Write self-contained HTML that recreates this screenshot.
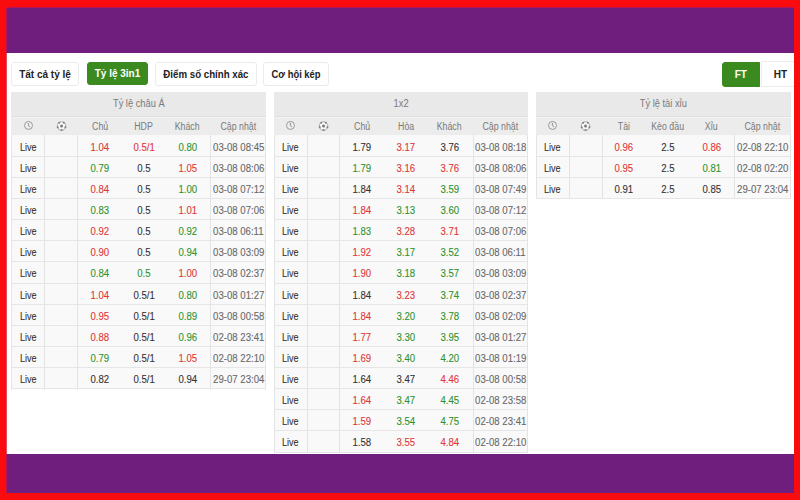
<!DOCTYPE html>
<html><head><meta charset="utf-8"><style>
*{margin:0;padding:0;box-sizing:border-box}
html,body{width:800px;height:500px;overflow:hidden;background:#f90b0e;font-family:"Liberation Sans",sans-serif}
#in{position:absolute;left:7px;top:8px;width:787px;height:485px;background:#fff;overflow:hidden}
#pt{position:absolute;left:0;top:0;width:787px;height:45px;background:#701e7e}
#pb{position:absolute;left:0;top:446px;width:787px;height:39px;background:#701e7e}
.btn{position:absolute;top:53.5px;height:24px;border:1px solid #ebebeb;border-radius:3px;background:#fff;font-size:10px;font-weight:bold;color:#222;text-align:center;line-height:23px}
.btn.on{background:#3b8a1f;border-color:#3b8a1f;color:#fff}
.tb{position:absolute;top:84px;width:254px;height:400px;font-size:10px}
i{font-style:normal;display:inline-block;transform:scaleX(0.93)}
.hd i{transform:scaleX(0.88)}
.rw i{transform:scaleX(0.96);-webkit-text-stroke:0.1px currentColor}
.rw i.lv{transform:scaleX(0.9)}
b{display:inline-block}
.ttl{position:absolute;left:0;top:0;width:100%;height:25px;background:#e9e9e9;border-bottom:1px solid #e0e0e0;color:#7a7a7a;text-align:center;line-height:24px}
.hd{position:absolute;left:0;top:25px;width:100%;height:18.1px;background:#ececec;border-top:1px solid #f3f3f3;color:#7a7a7a}
.dt{position:absolute;left:0;top:43.1px;width:100%;background:#f9f9f9}
.hl{position:absolute;left:0;width:100%;height:1px;background:#e6e6e6}
.vl{position:absolute;top:43.1px;width:1px;background:#e4e4e4}
.sh{position:absolute;top:0;width:254px;height:18px}
.rw{position:absolute;width:254px;height:21.13px;color:#333}
.hd span,.rw span{position:absolute;top:0;text-align:center;white-space:nowrap}
.hd span{line-height:17px;height:17px}
.rw span{line-height:21px;height:20.13px;padding-top:1.5px}
.c0{left:0;width:31.5px}
.c1{left:31.5px;width:33.5px}
.c2{left:65px;width:46px}
.c3{left:111px;width:42px}
.c4{left:152.5px;width:46px}
.c5{left:199.5px;width:54.5px}
.rw .c5{color:#686868}
.r{color:#df3639 !important}
.g{color:#2e922e !important}
</style></head><body>
<div style="position:absolute;left:7px;top:7px;width:787px;height:1px;background:#b5145a"></div>
<div style="position:absolute;left:6px;top:8px;width:1px;height:485px;background:#e0505c"></div>
<div style="position:absolute;left:6px;top:8px;width:1px;height:45px;background:#b5145a"></div>
<div style="position:absolute;left:6px;top:454px;width:1px;height:39px;background:#b5145a"></div>
<div id="in">
<div id="pt"></div>
<div class="btn" style="left:4px;width:68px"><b>Tất cả tỷ lệ</b></div>
<div class="btn on" style="left:80px;width:61px;top:54px;height:22.5px;line-height:22px"><b>Tỷ lệ 3in1</b></div>
<div class="btn" style="left:148px;width:102px"><b style="transform:scaleX(0.97)">Điểm số chính xác</b></div>
<div class="btn" style="left:256px;width:66px"><b style="transform:scaleX(0.94)">Cơ hội kép</b></div>
<div class="btn" style="left:753.5px;width:40px;top:53px;height:26px;line-height:24px;border-radius:0 3px 3px 0;border-color:#ededed"><b style="position:relative;top:0.5px">HT</b></div>
<div class="btn on" style="left:714.5px;width:38.5px;top:54px;height:24.5px;border-radius:3px 0 0 3px"><b>FT</b></div>

<div class="tb" style="left:4px;width:255px;height:296.66px">
<div class="ttl"><i>Tỷ lệ châu Á</i></div>
<div class="hd"><div class="sh" style="left:1px"><svg width="14" height="14" viewBox="0 0 14 14" style="position:absolute;left:10px;top:0px"><circle cx="6.5" cy="7.45" r="4" fill="none" stroke="#939393" stroke-width="0.9"/><path d="M6.4 4.9 V7.6 L8.1 8.8" fill="none" stroke="#8a8a8a" stroke-width="0.9"/></svg><svg width="13" height="13" viewBox="0 0 13 13" style="position:absolute;left:44px;top:1px"><g transform="translate(-0.45 1.05)"><circle cx="6" cy="6" r="4.3" fill="#f8f8f8" stroke="#a0a0a0" stroke-width="0.9"/><g fill="#808080"><circle cx="9.8" cy="7.2" r="1.0"/><circle cx="6" cy="10" r="1.0"/><circle cx="2.2" cy="7.2" r="1.0"/><circle cx="3.65" cy="2.75" r="1.0"/><circle cx="8.35" cy="2.75" r="1.0"/></g><circle cx="6" cy="6" r="1.5" fill="#7a7a7a"/></g></svg>
<span class="c2"><i>Chủ</i></span>
<span class="c3"><i>HDP</i></span>
<span class="c4"><i>Khách</i></span>
<span class="c5"><i>Cập nhật</i></span>
</div></div>
<div class="dt" style="height:253.56px"></div>
<div class="hl" style="top:63.73px"></div>
<div class="hl" style="top:84.86px"></div>
<div class="hl" style="top:105.99px"></div>
<div class="hl" style="top:127.12px"></div>
<div class="hl" style="top:148.25px"></div>
<div class="hl" style="top:169.38px"></div>
<div class="hl" style="top:190.51px"></div>
<div class="hl" style="top:211.64px"></div>
<div class="hl" style="top:232.77px"></div>
<div class="hl" style="top:253.90px"></div>
<div class="hl" style="top:275.03px"></div>
<div class="hl" style="top:296.16px"></div>
<div class="vl" style="left:0px;height:254.56px"></div>
<div class="vl" style="left:33px;height:254.56px"></div>
<div class="vl" style="left:66px;height:254.56px"></div>
<div class="vl" style="left:199px;height:254.56px"></div>
<div class="vl" style="left:254px;height:254.56px"></div>
<div class="rw" style="left:1px;top:43.10px">
<span class="c0"><i class="lv">Live</i></span>
<span class="c2 r"><i>1.04</i></span><span class="c3 r"><i>0.5/1</i></span><span class="c4 g"><i>0.80</i></span><span class="c5"><i>03-08 08:45</i></span>
</div>
<div class="rw" style="left:1px;top:64.23px">
<span class="c0"><i class="lv">Live</i></span>
<span class="c2 g"><i>0.79</i></span><span class="c3 "><i>0.5</i></span><span class="c4 r"><i>1.05</i></span><span class="c5"><i>03-08 08:06</i></span>
</div>
<div class="rw" style="left:1px;top:85.36px">
<span class="c0"><i class="lv">Live</i></span>
<span class="c2 r"><i>0.84</i></span><span class="c3 "><i>0.5</i></span><span class="c4 g"><i>1.00</i></span><span class="c5"><i>03-08 07:12</i></span>
</div>
<div class="rw" style="left:1px;top:106.49px">
<span class="c0"><i class="lv">Live</i></span>
<span class="c2 g"><i>0.83</i></span><span class="c3 "><i>0.5</i></span><span class="c4 r"><i>1.01</i></span><span class="c5"><i>03-08 07:06</i></span>
</div>
<div class="rw" style="left:1px;top:127.62px">
<span class="c0"><i class="lv">Live</i></span>
<span class="c2 r"><i>0.92</i></span><span class="c3 "><i>0.5</i></span><span class="c4 g"><i>0.92</i></span><span class="c5"><i>03-08 06:11</i></span>
</div>
<div class="rw" style="left:1px;top:148.75px">
<span class="c0"><i class="lv">Live</i></span>
<span class="c2 r"><i>0.90</i></span><span class="c3 "><i>0.5</i></span><span class="c4 g"><i>0.94</i></span><span class="c5"><i>03-08 03:09</i></span>
</div>
<div class="rw" style="left:1px;top:169.88px">
<span class="c0"><i class="lv">Live</i></span>
<span class="c2 g"><i>0.84</i></span><span class="c3 g"><i>0.5</i></span><span class="c4 r"><i>1.00</i></span><span class="c5"><i>03-08 02:37</i></span>
</div>
<div class="rw" style="left:1px;top:191.01px">
<span class="c0"><i class="lv">Live</i></span>
<span class="c2 r"><i>1.04</i></span><span class="c3 "><i>0.5/1</i></span><span class="c4 g"><i>0.80</i></span><span class="c5"><i>03-08 01:27</i></span>
</div>
<div class="rw" style="left:1px;top:212.14px">
<span class="c0"><i class="lv">Live</i></span>
<span class="c2 r"><i>0.95</i></span><span class="c3 "><i>0.5/1</i></span><span class="c4 g"><i>0.89</i></span><span class="c5"><i>03-08 00:58</i></span>
</div>
<div class="rw" style="left:1px;top:233.27px">
<span class="c0"><i class="lv">Live</i></span>
<span class="c2 r"><i>0.88</i></span><span class="c3 "><i>0.5/1</i></span><span class="c4 g"><i>0.96</i></span><span class="c5"><i>02-08 23:41</i></span>
</div>
<div class="rw" style="left:1px;top:254.40px">
<span class="c0"><i class="lv">Live</i></span>
<span class="c2 g"><i>0.79</i></span><span class="c3 "><i>0.5/1</i></span><span class="c4 r"><i>1.05</i></span><span class="c5"><i>02-08 22:10</i></span>
</div>
<div class="rw" style="left:1px;top:275.53px">
<span class="c0"><i class="lv">Live</i></span>
<span class="c2 "><i>0.82</i></span><span class="c3 "><i>0.5/1</i></span><span class="c4 "><i>0.94</i></span><span class="c5"><i>29-07 23:04</i></span>
</div>
</div>
<div class="tb" style="left:267px;width:254px;height:360.05px">
<div class="ttl"><i>1x2</i></div>
<div class="hd"><div class="sh" style="left:0px"><svg width="14" height="14" viewBox="0 0 14 14" style="position:absolute;left:10px;top:0px"><circle cx="6.5" cy="7.45" r="4" fill="none" stroke="#939393" stroke-width="0.9"/><path d="M6.4 4.9 V7.6 L8.1 8.8" fill="none" stroke="#8a8a8a" stroke-width="0.9"/></svg><svg width="13" height="13" viewBox="0 0 13 13" style="position:absolute;left:44px;top:1px"><g transform="translate(-0.45 1.05)"><circle cx="6" cy="6" r="4.3" fill="#f8f8f8" stroke="#a0a0a0" stroke-width="0.9"/><g fill="#808080"><circle cx="9.8" cy="7.2" r="1.0"/><circle cx="6" cy="10" r="1.0"/><circle cx="2.2" cy="7.2" r="1.0"/><circle cx="3.65" cy="2.75" r="1.0"/><circle cx="8.35" cy="2.75" r="1.0"/></g><circle cx="6" cy="6" r="1.5" fill="#7a7a7a"/></g></svg>
<span class="c2"><i>Chủ</i></span>
<span class="c3"><i>Hòa</i></span>
<span class="c4"><i>Khách</i></span>
<span class="c5"><i>Cập nhật</i></span>
</div></div>
<div class="dt" style="height:316.95px"></div>
<div class="hl" style="top:63.73px"></div>
<div class="hl" style="top:84.86px"></div>
<div class="hl" style="top:105.99px"></div>
<div class="hl" style="top:127.12px"></div>
<div class="hl" style="top:148.25px"></div>
<div class="hl" style="top:169.38px"></div>
<div class="hl" style="top:190.51px"></div>
<div class="hl" style="top:211.64px"></div>
<div class="hl" style="top:232.77px"></div>
<div class="hl" style="top:253.90px"></div>
<div class="hl" style="top:275.03px"></div>
<div class="hl" style="top:296.16px"></div>
<div class="hl" style="top:317.29px"></div>
<div class="hl" style="top:338.42px"></div>
<div class="hl" style="top:359.55px"></div>
<div class="vl" style="left:0px;height:317.95px"></div>
<div class="vl" style="left:32.5px;height:317.95px"></div>
<div class="vl" style="left:65px;height:317.95px"></div>
<div class="vl" style="left:199px;height:317.95px"></div>
<div class="vl" style="left:253px;height:317.95px"></div>
<div class="rw" style="left:0px;top:43.10px">
<span class="c0"><i class="lv">Live</i></span>
<span class="c2 "><i>1.79</i></span><span class="c3 r"><i>3.17</i></span><span class="c4 "><i>3.76</i></span><span class="c5"><i>03-08 08:18</i></span>
</div>
<div class="rw" style="left:0px;top:64.23px">
<span class="c0"><i class="lv">Live</i></span>
<span class="c2 g"><i>1.79</i></span><span class="c3 r"><i>3.16</i></span><span class="c4 r"><i>3.76</i></span><span class="c5"><i>03-08 08:06</i></span>
</div>
<div class="rw" style="left:0px;top:85.36px">
<span class="c0"><i class="lv">Live</i></span>
<span class="c2 "><i>1.84</i></span><span class="c3 r"><i>3.14</i></span><span class="c4 g"><i>3.59</i></span><span class="c5"><i>03-08 07:49</i></span>
</div>
<div class="rw" style="left:0px;top:106.49px">
<span class="c0"><i class="lv">Live</i></span>
<span class="c2 r"><i>1.84</i></span><span class="c3 g"><i>3.13</i></span><span class="c4 g"><i>3.60</i></span><span class="c5"><i>03-08 07:12</i></span>
</div>
<div class="rw" style="left:0px;top:127.62px">
<span class="c0"><i class="lv">Live</i></span>
<span class="c2 g"><i>1.83</i></span><span class="c3 r"><i>3.28</i></span><span class="c4 r"><i>3.71</i></span><span class="c5"><i>03-08 07:06</i></span>
</div>
<div class="rw" style="left:0px;top:148.75px">
<span class="c0"><i class="lv">Live</i></span>
<span class="c2 r"><i>1.92</i></span><span class="c3 g"><i>3.17</i></span><span class="c4 g"><i>3.52</i></span><span class="c5"><i>03-08 06:11</i></span>
</div>
<div class="rw" style="left:0px;top:169.88px">
<span class="c0"><i class="lv">Live</i></span>
<span class="c2 r"><i>1.90</i></span><span class="c3 g"><i>3.18</i></span><span class="c4 g"><i>3.57</i></span><span class="c5"><i>03-08 03:09</i></span>
</div>
<div class="rw" style="left:0px;top:191.01px">
<span class="c0"><i class="lv">Live</i></span>
<span class="c2 "><i>1.84</i></span><span class="c3 r"><i>3.23</i></span><span class="c4 g"><i>3.74</i></span><span class="c5"><i>03-08 02:37</i></span>
</div>
<div class="rw" style="left:0px;top:212.14px">
<span class="c0"><i class="lv">Live</i></span>
<span class="c2 r"><i>1.84</i></span><span class="c3 g"><i>3.20</i></span><span class="c4 g"><i>3.78</i></span><span class="c5"><i>03-08 02:09</i></span>
</div>
<div class="rw" style="left:0px;top:233.27px">
<span class="c0"><i class="lv">Live</i></span>
<span class="c2 r"><i>1.77</i></span><span class="c3 g"><i>3.30</i></span><span class="c4 g"><i>3.95</i></span><span class="c5"><i>03-08 01:27</i></span>
</div>
<div class="rw" style="left:0px;top:254.40px">
<span class="c0"><i class="lv">Live</i></span>
<span class="c2 r"><i>1.69</i></span><span class="c3 g"><i>3.40</i></span><span class="c4 g"><i>4.20</i></span><span class="c5"><i>03-08 01:19</i></span>
</div>
<div class="rw" style="left:0px;top:275.53px">
<span class="c0"><i class="lv">Live</i></span>
<span class="c2 "><i>1.64</i></span><span class="c3 "><i>3.47</i></span><span class="c4 r"><i>4.46</i></span><span class="c5"><i>03-08 00:58</i></span>
</div>
<div class="rw" style="left:0px;top:296.66px">
<span class="c0"><i class="lv">Live</i></span>
<span class="c2 r"><i>1.64</i></span><span class="c3 g"><i>3.47</i></span><span class="c4 g"><i>4.45</i></span><span class="c5"><i>02-08 23:58</i></span>
</div>
<div class="rw" style="left:0px;top:317.79px">
<span class="c0"><i class="lv">Live</i></span>
<span class="c2 r"><i>1.59</i></span><span class="c3 g"><i>3.54</i></span><span class="c4 g"><i>4.75</i></span><span class="c5"><i>02-08 23:41</i></span>
</div>
<div class="rw" style="left:0px;top:338.92px">
<span class="c0"><i class="lv">Live</i></span>
<span class="c2 "><i>1.58</i></span><span class="c3 r"><i>3.55</i></span><span class="c4 r"><i>4.84</i></span><span class="c5"><i>02-08 22:10</i></span>
</div>
</div>
<div class="tb" style="left:529px;width:255px;height:106.49px">
<div class="ttl"><i>Tỷ lệ tài xỉu</i></div>
<div class="hd"><div class="sh" style="left:0px"><svg width="14" height="14" viewBox="0 0 14 14" style="position:absolute;left:10px;top:0px"><circle cx="6.5" cy="7.45" r="4" fill="none" stroke="#939393" stroke-width="0.9"/><path d="M6.4 4.9 V7.6 L8.1 8.8" fill="none" stroke="#8a8a8a" stroke-width="0.9"/></svg><svg width="13" height="13" viewBox="0 0 13 13" style="position:absolute;left:44px;top:1px"><g transform="translate(-0.45 1.05)"><circle cx="6" cy="6" r="4.3" fill="#f8f8f8" stroke="#a0a0a0" stroke-width="0.9"/><g fill="#808080"><circle cx="9.8" cy="7.2" r="1.0"/><circle cx="6" cy="10" r="1.0"/><circle cx="2.2" cy="7.2" r="1.0"/><circle cx="3.65" cy="2.75" r="1.0"/><circle cx="8.35" cy="2.75" r="1.0"/></g><circle cx="6" cy="6" r="1.5" fill="#7a7a7a"/></g></svg>
<span class="c2"><i>Tài</i></span>
<span class="c3"><i>Kèo đầu</i></span>
<span class="c4"><i>Xỉu</i></span>
<span class="c5"><i>Cập nhật</i></span>
</div></div>
<div class="dt" style="height:63.39px"></div>
<div class="hl" style="top:63.73px"></div>
<div class="hl" style="top:84.86px"></div>
<div class="hl" style="top:105.99px"></div>
<div class="vl" style="left:0px;height:64.39px"></div>
<div class="vl" style="left:33px;height:64.39px"></div>
<div class="vl" style="left:66px;height:64.39px"></div>
<div class="vl" style="left:198px;height:64.39px"></div>
<div class="vl" style="left:254px;height:64.39px"></div>
<div class="rw" style="left:0px;top:43.10px">
<span class="c0"><i class="lv">Live</i></span>
<span class="c2 r"><i>0.96</i></span><span class="c3 "><i>2.5</i></span><span class="c4 r"><i>0.86</i></span><span class="c5"><i>02-08 22:10</i></span>
</div>
<div class="rw" style="left:0px;top:64.23px">
<span class="c0"><i class="lv">Live</i></span>
<span class="c2 r"><i>0.95</i></span><span class="c3 "><i>2.5</i></span><span class="c4 g"><i>0.81</i></span><span class="c5"><i>02-08 02:20</i></span>
</div>
<div class="rw" style="left:0px;top:85.36px">
<span class="c0"><i class="lv">Live</i></span>
<span class="c2 "><i>0.91</i></span><span class="c3 "><i>2.5</i></span><span class="c4 "><i>0.85</i></span><span class="c5"><i>29-07 23:04</i></span>
</div>
</div>
<div id="pb"></div>
</div>
</body></html>
